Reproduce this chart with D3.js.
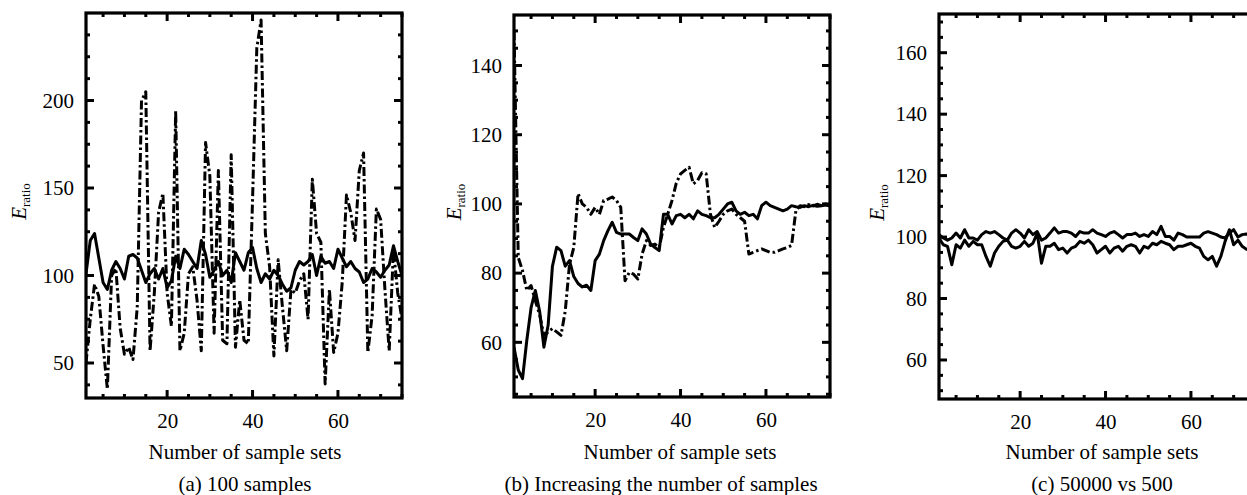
<!DOCTYPE html>
<html><head><meta charset="utf-8">
<script src="https://d3js.org/d3.v7.min.js"></script>
<style>body{margin:0;background:#fff}svg{display:block}svg text{font-family:'Liberation Serif','Times New Roman',serif !important;fill:#000}</style>
</head><body>
<svg id="c" width="1247" height="495"></svg>
<script>
// x positions: sample set index 1..75
const sampleSets = d3.range(1, 76);

// (a) 100 samples
const aSolid = [101,120,124,110,96,92,103,108,104,98,111,112,110,103,96,101,104,98,104,93,97,111,104,115,112,108,104,120,112,99,103,108,100,103,96,113,108,103,113,116,104,96,101,98,103,100,95,91,93,103,108,106,108,112,100,111,107,108,104,115,110,105,108,104,102,96,98,104,102,99,103,106,117,108,100];
const aDashDot = [50,75,95,88,60,35,100,104,70,55,59,52,82,200,205,57,90,136,147,90,71,194,57,67,101,105,86,57,176,157,67,160,63,61,169,59,86,63,61,143,230,246,124,105,54,109,82,57,92,90,97,101,75,155,124,119,38,92,56,67,96,146,136,120,160,170,56,77,138,132,92,57,115,90,75];

// (b) Increasing the number of samples
const bSolid = [58.6,52,49.5,60.6,70,75,69,58.6,65,82,87.5,86.5,82,83.6,79,77,76,76.5,75,83.6,85.5,89.4,92.3,94.7,91.8,91.3,91.3,91.3,90.3,89.4,92.8,91.3,88.4,87.4,86.5,97,97,94.2,96.6,97,96,97,95.7,98,97,96.6,96,96,97,98.5,100,100.5,98,97,97.6,96.6,97,95.7,99.5,100.5,99.5,99,98.5,98,98.5,99.5,99.2,99,99.5,99.2,99.6,99.3,99.5,99.7,99.4];
const bDashDot = [150,84.5,80.7,75,76.4,72,68,62,63,64,63,62,69,82.6,87.4,103,100,99,97,99,97,101,101.4,102,101,99,77.8,80.2,79.7,78.3,85.5,89.4,88,88.4,87.4,93.2,97,101,106,108.7,109.7,110.6,105.8,106.8,109,108.7,97,93.2,95,97,98,98.5,97,96,95,85.5,86,86.5,87,86.5,86,86,86.5,87,87.4,88,98,99.5,99.2,99.8,99.4,99.9,99.5,100,99.6];

// (c) 50000 vs 500
const cUpper = [100.8,99.7,99,99.7,101.3,99.7,102.4,99.7,99.7,99,100.8,101.8,101.3,101.8,100.8,99.7,99,101.3,102.4,101.3,99.7,102.4,100.8,101.8,99,99.7,101.3,103,101.3,101.8,101.8,101.3,100.2,101.8,101.3,101.3,102.4,101.3,100.8,100.2,101.3,101.8,100.8,99.7,100.8,100.8,101.3,100.2,100.8,100.2,101.8,100.8,103.5,100.2,100.2,99,101.3,100.8,100,100,100,100,101.3,101.8,101.3,100.8,100,99.7,101.3,102.4,100,100.8,101,100.5,100.8];
const cLower = [99.7,97.5,97,91,97.5,96.4,99,97,98.6,97.5,97.5,93.7,90.5,94.8,97,98.6,99,97,96.4,97,98.6,97,98,101.3,91.5,97,97,98,95.9,96.4,94.8,96.4,97,98.6,98,99,97.5,94.8,95.9,97,94.8,96.4,97,95.4,97,97.5,97,94.8,97,96.4,98,97.5,98.6,98,97.5,95.9,97,97,97.5,98,97,96.4,93.7,92.6,93.7,90.5,93.7,98.6,102.4,97.5,99,97,96,96.5,95.5];

// tick labels
const aYTicks = [50,100,150,200];
const bYTicks = [60,80,100,120,140];
const cYTicks = [60,80,100,120,140,160];
const xTicks = [20,40,60];

const xLabel = "Number of sample sets";
const captions = ["(a) 100 samples","(b) Increasing the number of samples","(c) 50000 vs 500"];

const svg = d3.select("#c");
const FONT = "'Liberation Serif','Times New Roman',serif";

const panels = [
  {left:86, top:13, bottom:398, ydom:[30,250], yticks:aYTicks, yminor:12.5, series:[{d:aDashDot,dash:"9,3,2.5,3"},{d:aSolid,dash:null}], ylab:20, xlabX:245, capX:245, caption:captions[0]},
  {left:514, top:15, bottom:397, ydom:[44.2,154.6], yticks:bYTicks, yminor:5, series:[{d:bDashDot,dash:"9,3,2.5,3"},{d:bSolid,dash:null}], ylab:455, xlabX:680, capX:661, caption:captions[1]},
  {left:939, top:14, bottom:399, ydom:[47.3,172.6], yticks:cYTicks, yminor:5, series:[{d:cUpper,dash:null},{d:cLower,dash:null}], ylab:878, xlabX:1102, capX:1102, caption:captions[2]}
];
const W = 316;

panels.forEach(p => {
  const x = d3.scaleLinear().domain([1,75]).range([p.left, p.left+W]);
  const y = d3.scaleLinear().domain(p.ydom).range([p.bottom, p.top]);
  const g = svg.append("g");
  const clipId = "clip" + p.left;
  g.append("clipPath").attr("id", clipId).append("rect")
    .attr("x", p.left).attr("y", p.top).attr("width", W).attr("height", p.bottom - p.top);

  const line = d3.line().x((d,i)=>x(sampleSets[i])).y(d=>y(d));
  p.series.forEach(s => {
    g.append("path").datum(s.d).attr("d", line)
      .attr("clip-path", `url(#${clipId})`)
      .attr("fill","none").attr("stroke","#000").attr("stroke-width",3)
      .attr("stroke-linejoin","round")
      .attr("stroke-dasharray", s.dash);
  });

  // minor/major ticks (inside on all four sides)
  const xMinor = d3.range(5, 76, 5);
  const yMinor = d3.range(Math.ceil(p.ydom[0]/p.yminor)*p.yminor, p.ydom[1], p.yminor);
  const tk = g.append("g").attr("stroke","#000").attr("stroke-width",3);
  xMinor.forEach(v => {
    const L = xTicks.includes(v) ? 8 : 4;
    tk.append("line").attr("x1",x(v)).attr("x2",x(v)).attr("y1",p.bottom).attr("y2",p.bottom-L);
    tk.append("line").attr("x1",x(v)).attr("x2",x(v)).attr("y1",p.top).attr("y2",p.top+L);
  });
  yMinor.forEach(v => {
    const L = p.yticks.includes(Math.round(v*10)/10) ? 8 : 4;
    tk.append("line").attr("y1",y(v)).attr("y2",y(v)).attr("x1",p.left).attr("x2",p.left+L);
    tk.append("line").attr("y1",y(v)).attr("y2",y(v)).attr("x1",p.left+W).attr("x2",p.left+W-L);
  });

  // axes labels via d3 axes (tick lines hidden)
  const ax = d3.axisBottom(x).tickValues(xTicks).tickSize(0).tickPadding(0);
  const gx = g.append("g").attr("transform",`translate(0,${p.bottom})`).call(ax)
    .attr("font-family", FONT).attr("font-size", 21);
  gx.select(".domain").remove();
  gx.selectAll("text").attr("dy",null).attr("y",30);

  const ay = d3.axisLeft(y).tickValues(p.yticks).tickSize(0).tickPadding(12);
  const gy = g.append("g").attr("transform",`translate(${p.left},0)`).call(ay)
    .attr("font-family", FONT).attr("font-size", 21);
  gy.select(".domain").remove();

  // frame
  g.append("rect").attr("x",p.left).attr("y",p.top).attr("width",W).attr("height",p.bottom-p.top)
    .attr("fill","none").attr("stroke","#000").attr("stroke-width",3.2);

  // y label
  const yl = g.append("text").attr("transform",`translate(${p.ylab+6},${(p.top+p.bottom)/2-4}) rotate(-90)`)
    .attr("text-anchor","middle").attr("font-family", FONT).attr("font-size", 21);
  yl.append("tspan").style("font-style","italic").text("E");
  yl.append("tspan").attr("dy",4).attr("font-size", 13).text("ratio");

  svg.append("text").attr("x",p.xlabX).attr("y",459).attr("text-anchor","middle")
    .attr("font-family", FONT).attr("font-size", 21).text(xLabel);
  svg.append("text").attr("x",p.capX).attr("y",491).attr("text-anchor","middle")
    .attr("font-family", FONT).attr("font-size", 21).text(p.caption);
});
</script>
</body></html>
